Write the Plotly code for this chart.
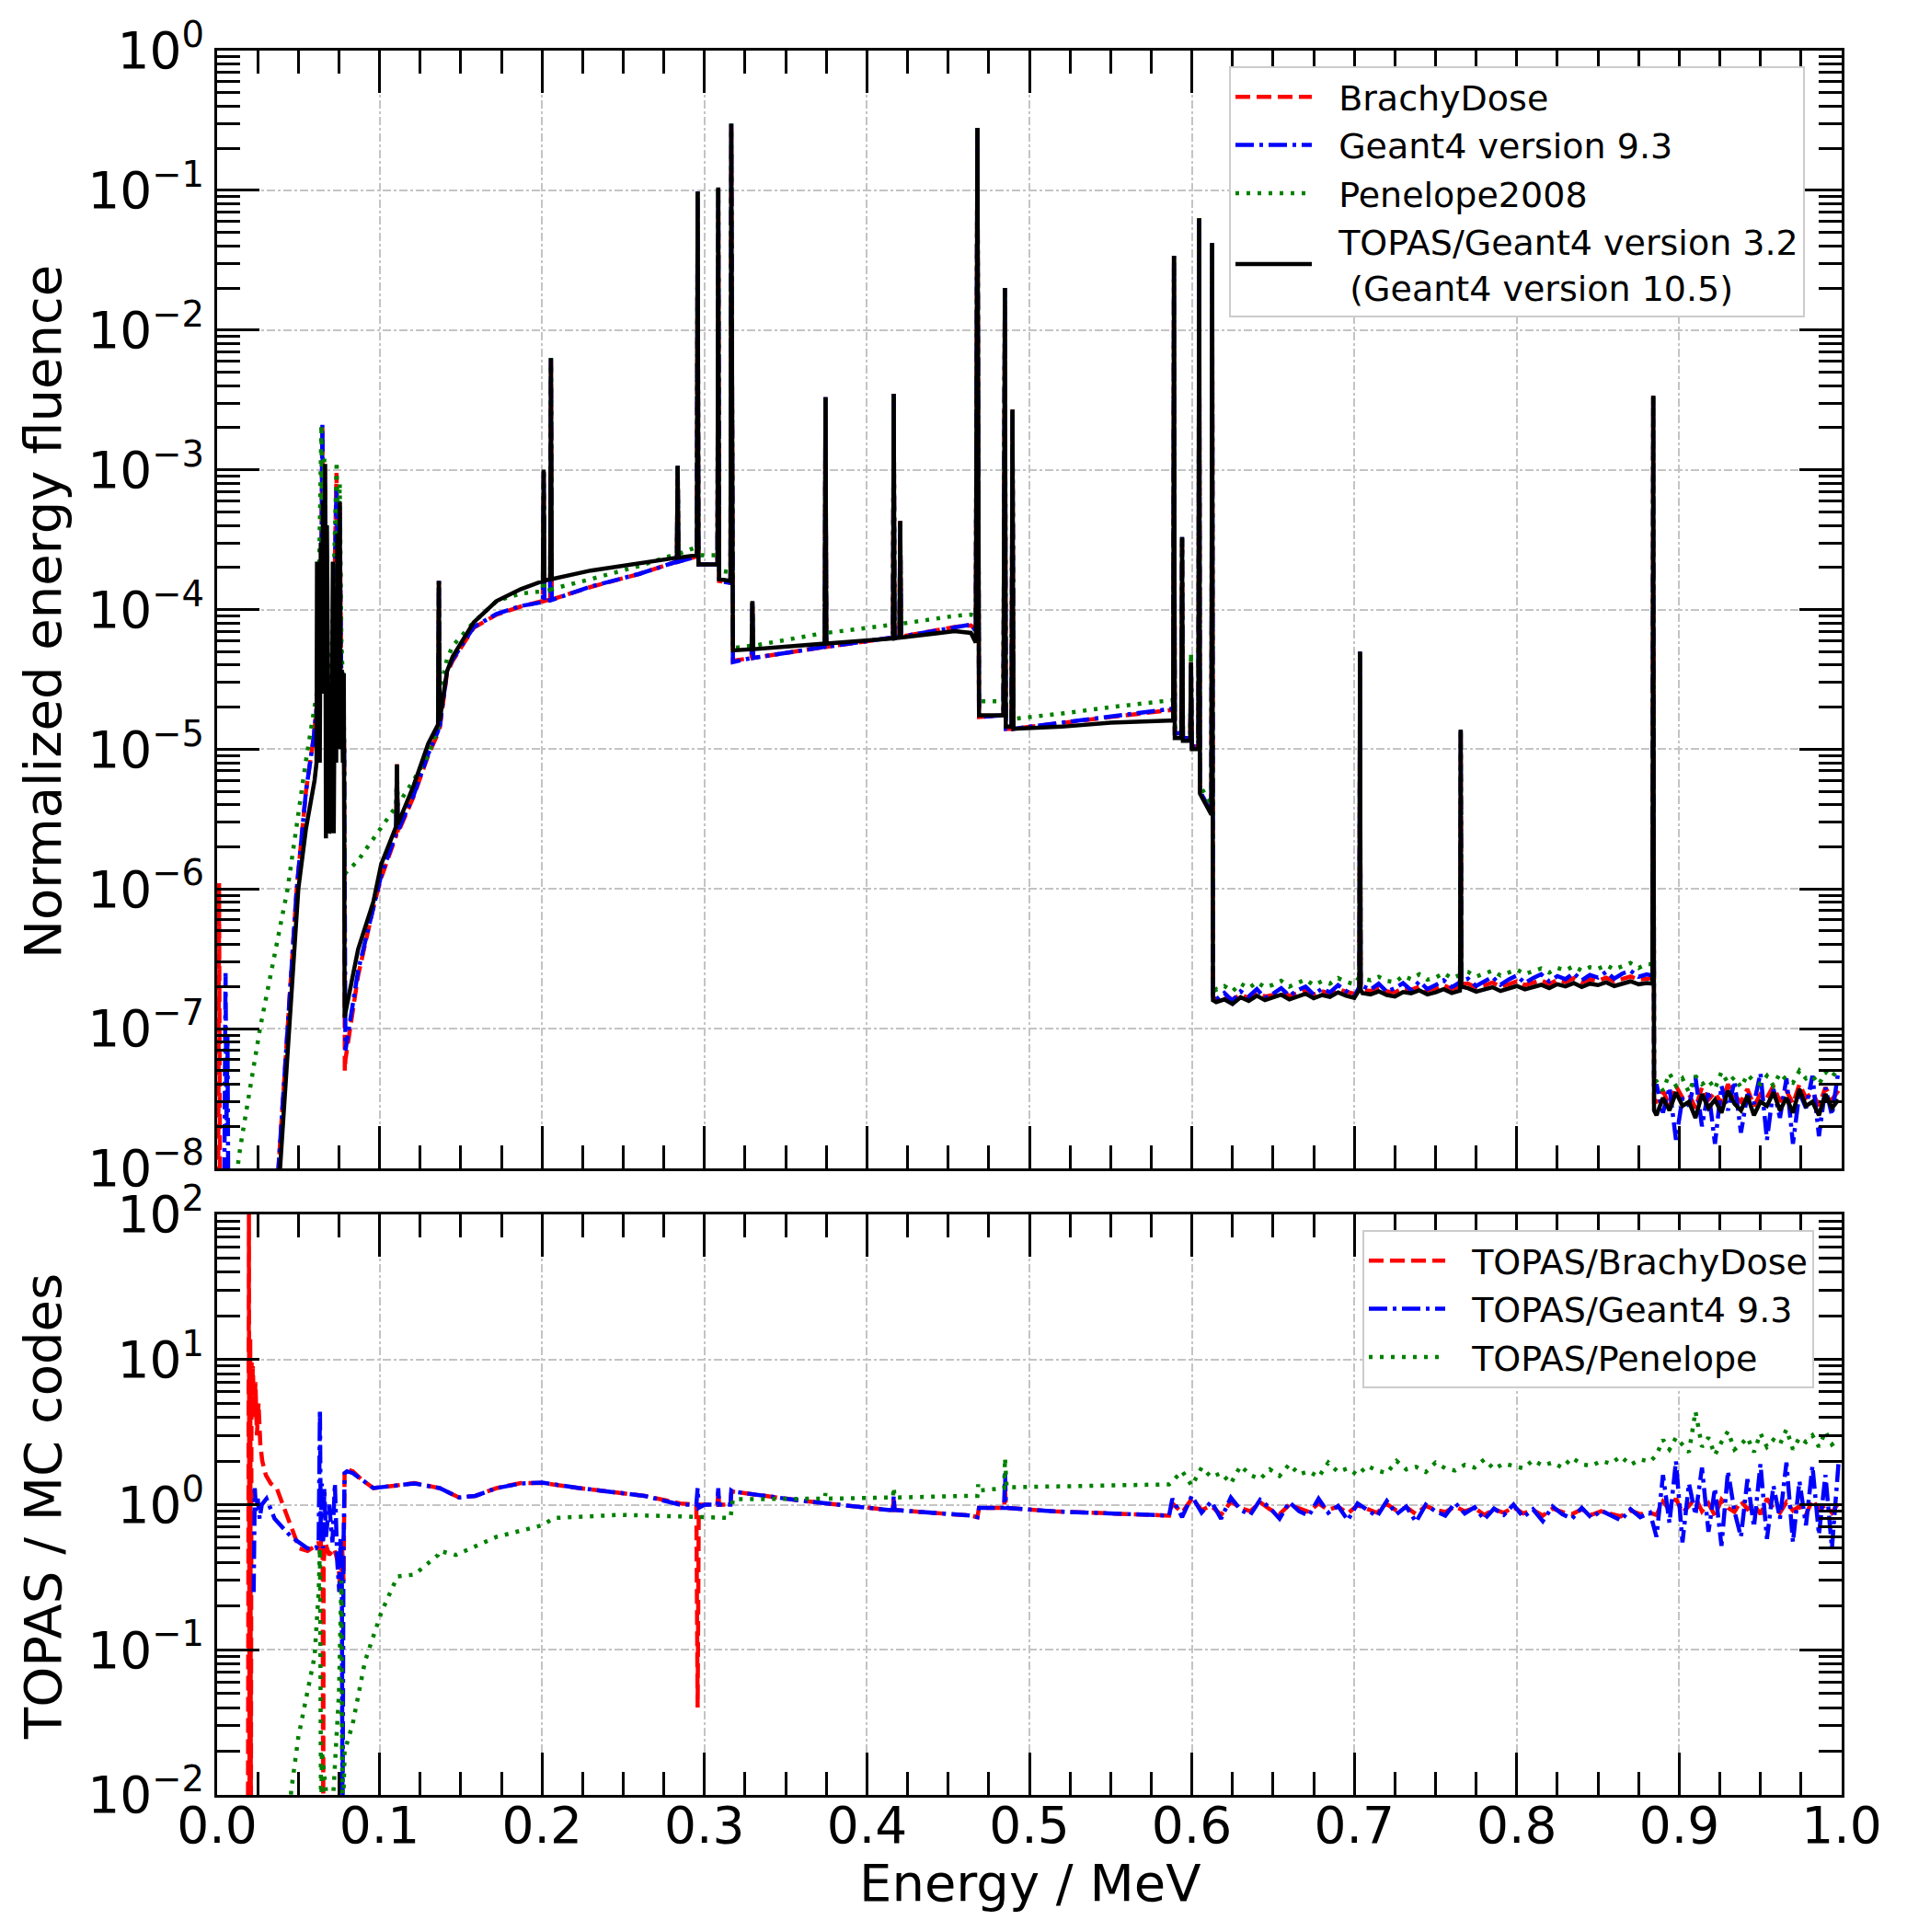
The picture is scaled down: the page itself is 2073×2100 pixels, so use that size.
import plotly.graph_objects as go

# ================= TOP PANEL: normalized energy fluence =================
# shared energy grids (MeV)
E_mid = [0.0790, 0.0868, 0.0962, 0.1010, 0.1102, 0.1107, 0.1112, 0.1210, 0.1300, 0.1360,
         0.1365, 0.1370, 0.1415, 0.1450, 0.1580, 0.1720, 0.1870, 0.2005, 0.2010, 0.2015,
         0.2050, 0.2055, 0.2060, 0.2300, 0.2600, 0.2830, 0.2835, 0.2840, 0.2953, 0.2958,
         0.2963, 0.3080, 0.3085, 0.3090, 0.3160, 0.3165, 0.3175, 0.3290, 0.3295, 0.3300,
         0.3740, 0.3745, 0.3750, 0.4160, 0.4165, 0.4170, 0.4200, 0.4205, 0.4210, 0.4540,
         0.4640, 0.4670, 0.4680, 0.4690, 0.4840, 0.4849, 0.4855, 0.4890, 0.4896, 0.4902,
         0.5200, 0.5500, 0.5860, 0.5885, 0.5890, 0.5895, 0.5935, 0.5940, 0.5945, 0.5990,
         0.5995, 0.6000, 0.6040, 0.6045, 0.6050, 0.6120, 0.6125, 0.6130]
E_n1 = [round(0.615 + 0.005 * i, 3) for i in range(54)]
E_sp = [0.7031, 0.7035, 0.7039, 0.7651, 0.7655, 0.7659]
E_884 = [0.8835, 0.8840, 0.8845]
E_n2 = [round(0.886 + 0.004 * i, 3) for i in range(29)]

# --- TOPAS/Geant4 10.5 (black)
black_low_E = [0.0385, 0.0443, 0.0500, 0.0547, 0.0600, 0.0612, 0.0615, 0.0619, 0.0626, 0.0632,
               0.0638, 0.0645, 0.0652, 0.0658, 0.0665, 0.0670, 0.0676, 0.0690, 0.0705, 0.0712,
               0.0718, 0.0726, 0.0733, 0.0740, 0.0748, 0.0755, 0.0761, 0.0768, 0.0774, 0.0780,
               0.0785]
black_low = [9e-9, 1e-7, 1e-6, 2.7e-6, 6e-6, 8e-6, 2.2e-4, 1.5e-5, 1.0e-4, 8e-6,
             3e-4, 2.5e-5, 6e-4, 3e-5, 1.1e-3, 2.3e-6, 4e-4, 2.5e-6, 2.8e-6, 2.2e-4,
             2.5e-6, 1e-4, 8e-6, 3.5e-4, 1e-5, 5.9e-4, 1.5e-5, 3.7e-5, 8e-6, 3.5e-5,
             1.2e-7]
black_mid = [1.3e-7, 3.7e-7, 8.1e-7, 1.5e-6, 2.8e-6, 7.8e-6, 2.9e-6, 5.5e-6, 1.1e-5, 1.5e-5,
             1.6e-4, 1.6e-5, 3.6e-5, 4.6e-5, 8.1e-5, 1.15e-4, 1.4e-4, 1.6e-4, 1.0e-3, 1.6e-4,
             1.65e-4, 6.3e-3, 1.65e-4, 1.9e-4, 2.15e-4, 2.35e-4, 1.07e-3, 2.35e-4, 2.45e-4, 9.8e-2,
             2.1e-4, 2.1e-4, 1.05e-1, 1.65e-4, 1.6e-4, 3.0e-1, 5.1e-5, 5.2e-5, 1.15e-4, 5.2e-5,
             5.7e-5, 3.3e-3, 5.7e-5, 6.2e-5, 3.5e-3, 6.2e-5, 6.3e-5, 4.3e-4, 6.3e-5, 7.0e-5,
             6.8e-5, 5.8e-5, 2.8e-1, 1.75e-5, 1.75e-5, 2.0e-2, 1.45e-5, 1.45e-5, 2.7e-3, 1.4e-5,
             1.45e-5, 1.55e-5, 1.6e-5, 1.6e-5, 3.4e-2, 1.2e-5, 1.2e-5, 3.3e-4, 1.15e-5, 1.15e-5,
             4.2e-5, 1.0e-5, 1.0e-5, 6.3e-2, 4.8e-6, 3.4e-6, 4.2e-2, 1.6e-7]
black_n1 = [1.55e-7, 1.62e-7, 1.50e-7, 1.68e-7, 1.58e-7, 1.72e-7, 1.60e-7, 1.66e-7, 1.75e-7, 1.62e-7,
            1.70e-7, 1.78e-7, 1.65e-7, 1.74e-7, 1.69e-7, 1.82e-7, 1.72e-7, 1.66e-7, 1.80e-7, 1.76e-7,
            1.85e-7, 1.74e-7, 1.70e-7, 1.83e-7, 1.79e-7, 1.88e-7, 1.76e-7, 1.82e-7, 1.92e-7, 1.80e-7,
            1.87e-7, 1.95e-7, 1.84e-7, 1.90e-7, 1.98e-7, 1.86e-7, 1.93e-7, 2.02e-7, 1.91e-7, 1.97e-7,
            2.06e-7, 1.95e-7, 2.08e-7, 2.01e-7, 2.12e-7, 1.99e-7, 2.10e-7, 2.05e-7, 2.15e-7, 2.02e-7,
            2.11e-7, 2.18e-7, 2.08e-7, 2.12e-7]
black_sp = [1.9e-7, 5.0e-5, 1.9e-7, 2.0e-7, 1.38e-5, 2.0e-7]
black_884 = [2.1e-7, 3.4e-3, 2.6e-8]
black_n2 = [2.4e-8, 3.2e-8, 2.6e-8, 3.5e-8, 2.8e-8, 3.0e-8, 2.3e-8, 3.4e-8, 2.7e-8, 3.1e-8,
            2.5e-8, 3.6e-8, 2.9e-8, 2.6e-8, 3.3e-8, 2.4e-8, 3.0e-8, 2.8e-8, 3.5e-8, 2.6e-8,
            3.2e-8, 2.5e-8, 3.7e-8, 2.8e-8, 3.0e-8, 2.4e-8, 3.4e-8, 2.7e-8, 3.1e-8]

# --- BrachyDose (red)
red_low_E = [0.0005, 0.0012, 0.0020, 0.0375, 0.0434, 0.0490, 0.0547, 0.0594, 0.0613, 0.0630,
             0.0641, 0.0648, 0.0655, 0.0662, 0.0670, 0.0690, 0.0710, 0.0725, 0.0735, 0.0745,
             0.0755, 0.0763, 0.0775, 0.0782, 0.0786]
red_low = [1e-9, 1.1e-6, 1e-9, 9e-9, 1e-7, 1e-6, 5e-6, 1.2e-5, 2e-5, 3e-5,
           1.5e-4, 2.0e-3, 1.5e-4, 1.0e-3, 4e-5, 1.8e-5, 2.5e-5, 1.5e-4, 9.5e-4, 1.2e-4,
           6e-4, 4e-5, 2.5e-5, 1e-5, 5e-8]
red_mid = [6.0e-8, 2.4e-7, 7.4e-7, 1.2e-6, 2.4e-6, 7.8e-6, 2.5e-6, 4.6e-6, 9.1e-6, 1.3e-5,
           1.6e-4, 1.4e-5, 3.5e-5, 4.3e-5, 7.4e-5, 9.2e-5, 1.05e-4, 1.15e-4, 1.0e-3, 1.15e-4,
           1.18e-4, 6.3e-3, 1.18e-4, 1.45e-4, 1.8e-4, 2.2e-4, 1.07e-3, 2.2e-4, 2.4e-4, 9.8e-2,
           2.1e-4, 2.1e-4, 1.05e-1, 1.6e-4, 1.55e-4, 3.0e-1, 4.3e-5, 4.5e-5, 1.15e-4, 4.5e-5,
           5.4e-5, 3.3e-3, 5.4e-5, 6.3e-5, 3.5e-3, 6.3e-5, 6.4e-5, 4.3e-4, 6.4e-5, 7.5e-5,
           7.7e-5, 7.2e-5, 2.8e-1, 1.7e-5, 1.75e-5, 2.0e-2, 1.4e-5, 1.4e-5, 2.7e-3, 1.4e-5,
           1.55e-5, 1.7e-5, 1.9e-5, 1.9e-5, 3.4e-2, 1.3e-5, 1.3e-5, 3.3e-4, 1.2e-5, 1.2e-5,
           4.2e-5, 1.05e-5, 1.05e-5, 6.3e-2, 5.0e-6, 3.5e-6, 4.2e-2, 1.7e-7]
red_n1 = [1.60e-7, 1.70e-7, 1.62e-7, 1.75e-7, 1.66e-7, 1.80e-7, 1.70e-7, 1.74e-7, 1.84e-7, 1.72e-7,
          1.80e-7, 1.88e-7, 1.76e-7, 1.85e-7, 1.79e-7, 1.92e-7, 1.84e-7, 1.78e-7, 1.90e-7, 1.86e-7,
          1.96e-7, 1.85e-7, 1.82e-7, 1.95e-7, 1.90e-7, 2.00e-7, 1.88e-7, 1.94e-7, 2.05e-7, 1.92e-7,
          2.00e-7, 2.10e-7, 1.98e-7, 2.04e-7, 2.14e-7, 2.00e-7, 2.08e-7, 2.18e-7, 2.05e-7, 2.12e-7,
          2.22e-7, 2.08e-7, 2.24e-7, 2.16e-7, 2.30e-7, 2.14e-7, 2.26e-7, 2.20e-7, 2.32e-7, 2.18e-7,
          2.28e-7, 2.36e-7, 2.25e-7, 2.30e-7]
red_sp = [2.0e-7, 5.0e-5, 2.0e-7, 2.1e-7, 1.38e-5, 2.1e-7]
red_884 = [2.3e-7, 3.4e-3, 3.0e-8]
red_n2 = [3.0e-8, 3.6e-8, 2.8e-8, 3.9e-8, 3.2e-8, 3.4e-8, 2.7e-8, 3.8e-8, 3.1e-8, 3.5e-8,
          2.9e-8, 4.0e-8, 3.3e-8, 3.0e-8, 3.7e-8, 2.8e-8, 3.4e-8, 3.2e-8, 3.9e-8, 3.0e-8,
          3.6e-8, 2.9e-8, 4.0e-8, 3.2e-8, 3.5e-8, 2.8e-8, 3.8e-8, 3.1e-8, 3.6e-8]

# --- Geant4 9.3 (blue)
blue_low_E = [0.0040, 0.0052, 0.0058, 0.0064, 0.0072, 0.0375, 0.0434, 0.0490, 0.0547, 0.0594,
              0.0613, 0.0630, 0.0641, 0.0648, 0.0655, 0.0662, 0.0670, 0.0690, 0.0710, 0.0725,
              0.0735, 0.0745, 0.0755, 0.0763, 0.0775, 0.0782, 0.0786]
blue_low = [1e-9, 2.5e-7, 2e-8, 9e-8, 1e-9, 9e-9, 1e-7, 1e-6, 5e-6, 1.2e-5,
            2e-5, 3e-5, 1.5e-4, 2.1e-3, 1.5e-4, 9e-4, 4e-5, 1.8e-5, 2.5e-5, 1.5e-4,
            7.5e-4, 1.2e-4, 5e-4, 4e-5, 2.5e-5, 1e-5, 7e-8]
blue_mid = [7.0e-8, 2.6e-7, 7.6e-7, 1.25e-6, 2.5e-6, 7.8e-6, 2.6e-6, 4.7e-6, 9.3e-6, 1.35e-5,
            1.6e-4, 1.45e-5, 3.6e-5, 4.4e-5, 7.5e-5, 9.3e-5, 1.06e-4, 1.13e-4, 1.0e-3, 1.13e-4,
            1.17e-4, 6.3e-3, 1.17e-4, 1.46e-4, 1.8e-4, 2.2e-4, 1.07e-3, 2.2e-4, 2.4e-4, 9.8e-2,
            2.1e-4, 2.1e-4, 1.05e-1, 1.6e-4, 1.55e-4, 3.0e-1, 4.2e-5, 4.5e-5, 1.15e-4, 4.5e-5,
            5.4e-5, 3.3e-3, 5.4e-5, 6.3e-5, 3.5e-3, 6.3e-5, 6.4e-5, 4.3e-4, 6.4e-5, 7.4e-5,
            7.8e-5, 7.0e-5, 2.8e-1, 1.7e-5, 1.75e-5, 2.0e-2, 1.4e-5, 1.4e-5, 2.7e-3, 1.4e-5,
            1.55e-5, 1.7e-5, 1.95e-5, 1.95e-5, 3.4e-2, 1.3e-5, 1.3e-5, 3.3e-4, 1.2e-5, 1.2e-5,
            4.2e-5, 1.05e-5, 1.05e-5, 6.3e-2, 5.0e-6, 3.5e-6, 4.2e-2, 1.7e-7]
blue_n1 = [1.62e-7, 1.80e-7, 1.58e-7, 1.85e-7, 1.70e-7, 1.92e-7, 1.66e-7, 1.78e-7, 1.95e-7, 1.72e-7,
           1.88e-7, 2.00e-7, 1.75e-7, 1.93e-7, 1.82e-7, 2.05e-7, 1.86e-7, 1.70e-7, 2.02e-7, 1.90e-7,
           2.10e-7, 1.84e-7, 1.95e-7, 2.12e-7, 1.88e-7, 2.18e-7, 1.92e-7, 2.05e-7, 2.22e-7, 1.98e-7,
           2.15e-7, 2.28e-7, 2.02e-7, 2.20e-7, 2.35e-7, 2.06e-7, 2.25e-7, 2.40e-7, 2.12e-7, 2.30e-7,
           2.45e-7, 2.18e-7, 2.38e-7, 2.26e-7, 2.50e-7, 2.22e-7, 2.42e-7, 2.32e-7, 2.55e-7, 2.28e-7,
           2.48e-7, 2.60e-7, 2.35e-7, 2.45e-7]
blue_sp = [2.0e-7, 5.0e-5, 2.0e-7, 2.2e-7, 1.38e-5, 2.2e-7]
blue_884 = [2.4e-7, 3.4e-3, 3.5e-8]
blue_n2 = [4.0e-8, 2.5e-8, 3.8e-8, 1.6e-8, 3.2e-8, 2.8e-8, 4.5e-8, 2.0e-8, 3.6e-8, 1.5e-8,
           3.9e-8, 2.6e-8, 4.2e-8, 1.8e-8, 3.4e-8, 2.9e-8, 4.8e-8, 1.6e-8, 3.7e-8, 2.3e-8,
           4.4e-8, 1.5e-8, 3.5e-8, 2.7e-8, 4.6e-8, 1.7e-8, 3.8e-8, 2.4e-8, 5.0e-8]

# --- Penelope2008 (green)
green_low_E = [0.0120, 0.0142, 0.0264, 0.0434, 0.0547, 0.0594, 0.0613, 0.0625, 0.0642, 0.0650,
               0.0660, 0.0672, 0.0700, 0.0720, 0.0736, 0.0745, 0.0755, 0.0765, 0.0780, 0.0786]
green_low = [9e-9, 1.4e-8, 1e-7, 1e-6, 8.3e-6, 1.8e-5, 2.5e-5, 1.2e-4, 2.1e-3, 2e-4,
             1.2e-3, 6e-5, 3e-5, 2e-4, 1.15e-3, 2e-4, 8e-4, 6e-5, 2e-5, 1.2e-6]
green_mid = [1.3e-6, 1.6e-6, 2.3e-6, 2.7e-6, 3.9e-6, 7.8e-6, 4.0e-6, 6.0e-6, 9.1e-6, 1.4e-5,
             1.6e-4, 2.6e-5, 4.4e-5, 5.5e-5, 8.1e-5, 1.15e-4, 1.3e-4, 1.35e-4, 1.0e-3, 1.35e-4,
             1.38e-4, 6.3e-3, 1.4e-4, 1.65e-4, 2.05e-4, 2.5e-4, 1.07e-3, 2.5e-4, 2.8e-4, 9.8e-2,
             2.45e-4, 2.45e-4, 1.05e-1, 1.9e-4, 1.85e-4, 3.0e-1, 5.3e-5, 5.5e-5, 1.15e-4, 5.5e-5,
             6.8e-5, 3.3e-3, 6.8e-5, 7.8e-5, 3.5e-3, 7.8e-5, 7.9e-5, 4.3e-4, 7.9e-5, 9.0e-5,
             9.2e-5, 9.0e-5, 2.8e-1, 2.2e-5, 2.2e-5, 2.0e-2, 1.7e-5, 1.7e-5, 2.7e-3, 1.65e-5,
             1.8e-5, 2.0e-5, 2.25e-5, 2.25e-5, 3.4e-2, 1.45e-5, 1.45e-5, 3.3e-4, 1.4e-5, 1.4e-5,
             4.9e-5, 1.2e-5, 1.2e-5, 6.3e-2, 5.5e-6, 4.0e-6, 4.2e-2, 2.1e-7]
green_n1 = [1.90e-7, 2.02e-7, 1.85e-7, 2.10e-7, 1.95e-7, 2.15e-7, 1.98e-7, 2.06e-7, 2.20e-7, 2.00e-7,
            2.12e-7, 2.25e-7, 2.05e-7, 2.18e-7, 2.10e-7, 2.30e-7, 2.16e-7, 2.08e-7, 2.28e-7, 2.22e-7,
            2.35e-7, 2.20e-7, 2.15e-7, 2.38e-7, 2.26e-7, 2.45e-7, 2.24e-7, 2.32e-7, 2.50e-7, 2.30e-7,
            2.42e-7, 2.55e-7, 2.36e-7, 2.48e-7, 2.60e-7, 2.40e-7, 2.52e-7, 2.65e-7, 2.46e-7, 2.58e-7,
            2.70e-7, 2.52e-7, 2.72e-7, 2.62e-7, 2.80e-7, 2.60e-7, 2.75e-7, 2.68e-7, 2.85e-7, 2.66e-7,
            2.78e-7, 2.95e-7, 2.72e-7, 2.90e-7]
green_sp = [2.35e-7, 5.0e-5, 2.35e-7, 2.6e-7, 1.38e-5, 2.6e-7]
green_884 = [2.9e-7, 3.4e-3, 4.2e-8]
green_n2 = [4.2e-8, 3.6e-8, 4.8e-8, 3.9e-8, 4.4e-8, 3.5e-8, 4.6e-8, 4.0e-8, 4.3e-8, 3.7e-8,
            4.9e-8, 4.1e-8, 4.5e-8, 3.8e-8, 4.7e-8, 4.2e-8, 4.0e-8, 4.6e-8, 3.9e-8, 4.8e-8,
            4.3e-8, 4.1e-8, 5.0e-8, 4.4e-8, 4.6e-8, 4.0e-8, 4.9e-8, 4.5e-8, 5.2e-8]

# ================= BOTTOM PANEL: TOPAS / MC code ratios =================
E_rmid = [0.0800, 0.0835, 0.0886, 0.0962, 0.1090, 0.1215, 0.1370, 0.1490, 0.1590, 0.1720,
          0.1870, 0.2000, 0.2230, 0.2480, 0.2630, 0.2850, 0.2950, 0.2958, 0.2965, 0.3000,
          0.3080, 0.3085, 0.3090, 0.3160, 0.3165, 0.3175, 0.3610, 0.4130, 0.4160, 0.4165,
          0.4170, 0.4640, 0.4680, 0.4690, 0.4845, 0.4850, 0.4855, 0.5150, 0.5660, 0.5860]
E_gmid = [0.2850, 0.3050, 0.3160, 0.3175, 0.3740, 0.3745, 0.3750, 0.4130, 0.4160, 0.4165,
          0.4170, 0.4640, 0.4680, 0.4685, 0.4690, 0.4845, 0.4850, 0.4860, 0.4900, 0.5400,
          0.5860]
E_rn1 = [round(0.588 + 0.006 * i, 3) for i in range(50)]

# TOPAS/BrachyDose (red)
rr_low_E = [0.0190, 0.0196, 0.0200, 0.0204, 0.0208, 0.0212, 0.0216, 0.0220, 0.0228, 0.0236,
            0.0245, 0.0255, 0.0266, 0.0278, 0.0300, 0.0330, 0.0367, 0.0420, 0.0456, 0.0506,
            0.0557, 0.0608, 0.0625, 0.0635, 0.0645, 0.0650, 0.0653, 0.0656, 0.0665, 0.0690,
            0.0720, 0.0745, 0.0760, 0.0770, 0.0778, 0.0785]
rr_low = [5e-3, 100, 5e-3, 13.8, 5e-3, 10, 6, 9, 4, 7,
          3, 5, 2.6, 2.0, 1.6, 1.4, 1.3, 0.9, 0.71, 0.5,
          0.48, 0.52, 0.55, 0.45, 0.72, 0.4, 5e-3, 0.4, 0.55, 0.45,
          0.5, 0.4, 0.25, 0.5, 0.3, 1.7]
rr_mid = [1.75, 1.7, 1.5, 1.3, 1.35, 1.41, 1.3, 1.12, 1.15, 1.3,
          1.41, 1.41, 1.3, 1.2, 1.15, 1.02, 1.0, 0.04, 1.0, 1.0,
          1.0, 1.25, 1.0, 1.0, 1.2, 1.23, 1.06, 0.92, 0.92, 1.1,
          0.92, 0.84, 0.82, 0.95, 0.95, 1.35, 0.95, 0.9, 0.86, 0.84]
rr_n1 = [1.02, 0.88, 1.10, 0.92, 0.98, 0.85, 1.05, 0.95, 0.90, 1.04,
         0.93, 0.86, 1.00, 0.95, 0.89, 1.02, 0.92, 0.97, 0.87, 0.99,
         0.94, 0.88, 1.01, 0.91, 0.96, 0.86, 0.98, 0.92, 0.89, 0.97,
         0.90, 0.95, 0.85, 0.93, 0.88, 0.96, 0.87, 0.92, 0.84, 0.94,
         0.89, 0.86, 0.93, 0.85, 0.90, 0.87, 0.83, 0.91, 0.86, 0.88]
rr_n2 = [0.85, 1.05, 0.92, 1.10, 0.88, 0.98, 1.12, 0.90, 1.02, 0.84,
         1.08, 0.95, 0.89, 1.06, 0.93, 1.00, 0.86, 1.10, 0.94, 0.88,
         1.04, 0.91, 0.97, 0.85, 1.08, 0.93, 0.99, 0.88, 1.02]

# TOPAS/Geant4 9.3 (blue)
br_low_E = [0.0225, 0.0232, 0.0240, 0.0250, 0.0262, 0.0275, 0.0304, 0.0354, 0.0456, 0.0557,
            0.0608, 0.0625, 0.0633, 0.0638, 0.0645, 0.0652, 0.0660, 0.0670, 0.0690, 0.0710,
            0.0725, 0.0740, 0.0752, 0.0760, 0.0768, 0.0772, 0.0778, 0.0785]
br_low = [0.25, 1.3, 0.9, 1.1, 0.8, 1.0, 1.1, 0.8, 0.6, 0.5,
          0.5, 0.55, 4.5, 0.7, 1.4, 0.5, 1.3, 0.6, 1.0, 0.55,
          1.4, 0.4, 0.25, 0.6, 0.3, 5e-3, 0.5, 1.65]
br_mid = [1.7, 1.65, 1.5, 1.3, 1.35, 1.4, 1.3, 1.12, 1.15, 1.3,
          1.4, 1.42, 1.3, 1.2, 1.15, 1.0, 1.0, 1.3, 0.95, 1.0,
          1.0, 1.3, 1.0, 1.0, 1.25, 1.23, 1.06, 0.92, 0.92, 1.15,
          0.92, 0.84, 0.82, 0.95, 0.95, 1.7, 0.95, 0.9, 0.86, 0.84]
br_n1 = [1.10, 0.82, 1.15, 0.88, 1.05, 0.80, 1.12, 0.92, 0.85, 1.08,
         0.95, 0.80, 1.04, 0.90, 0.84, 1.10, 0.88, 0.98, 0.78, 1.02,
         0.92, 0.83, 1.06, 0.86, 0.97, 0.76, 1.00, 0.90, 0.84, 1.03,
         0.87, 0.96, 0.79, 0.94, 0.85, 1.00, 0.82, 0.93, 0.77, 0.97,
         0.86, 0.80, 0.95, 0.81, 0.91, 0.84, 0.78, 0.93, 0.82, 0.88]
br_n2 = [0.60, 1.60, 0.75, 2.00, 0.55, 1.40, 0.85, 1.80, 0.65, 1.30,
         0.52, 1.70, 0.90, 0.60, 1.50, 0.70, 1.90, 0.58, 1.35, 0.80,
         1.95, 0.55, 1.45, 0.72, 1.85, 0.62, 1.60, 0.50, 1.90]

# TOPAS/Penelope (green)
gr_low_E = [0.0440, 0.0456, 0.0500, 0.0557, 0.0600, 0.0625, 0.0633, 0.0637, 0.0640, 0.0645,
            0.0700, 0.0750, 0.0765, 0.0772, 0.0778, 0.0785, 0.0835, 0.0910, 0.1010, 0.1100,
            0.1110, 0.1215, 0.1360, 0.1370, 0.1470, 0.1720, 0.2000, 0.2076, 0.2480]
gr_low = [5e-3, 0.0107, 0.025, 0.052, 0.09, 0.25, 0.5, 0.05, 5e-3, 0.02,
          5e-3, 0.05, 0.3, 5e-3, 0.012, 0.02, 0.031, 0.083, 0.18, 0.3,
          0.32, 0.33, 0.45, 0.48, 0.45, 0.6, 0.72, 0.81, 0.85]
gr_mid = [0.83, 0.81, 0.81, 1.09, 1.1, 1.2, 1.1, 1.12, 1.12, 1.32,
          1.12, 1.15, 1.15, 1.38, 1.25, 1.3, 2.1, 1.32, 1.32, 1.35,
          1.38]
gr_n1 = [1.45, 1.70, 1.35, 1.80, 1.55, 1.65, 1.40, 1.85, 1.60, 1.50,
         1.75, 1.58, 1.90, 1.62, 1.70, 1.55, 1.95, 1.68, 1.78, 1.60,
         1.85, 1.72, 1.65, 2.00, 1.75, 1.82, 1.68, 1.95, 1.78, 1.72,
         1.88, 1.80, 2.05, 1.76, 1.92, 1.84, 1.78, 2.02, 1.86, 1.95,
         1.80, 2.10, 1.90, 1.85, 2.00, 1.92, 2.15, 1.88, 2.05, 1.98]
gr_n2 = [2.2, 2.8, 2.4, 2.9, 2.6, 2.3, 4.4, 2.5, 2.9, 2.2,
         2.7, 3.2, 2.4, 2.6, 2.9, 2.3, 3.1, 2.5, 2.8, 2.6,
         3.3, 2.4, 2.9, 2.7, 3.0, 2.5, 3.2, 2.6, 2.8]

y_top_ticks = [1e-8, 1e-7, 1e-6, 1e-5, 1e-4, 1e-3, 1e-2, 1e-1, 1e0]
y_top_text = ["10<sup>−8</sup>", "10<sup>−7</sup>", "10<sup>−6</sup>", "10<sup>−5</sup>",
              "10<sup>−4</sup>", "10<sup>−3</sup>", "10<sup>−2</sup>", "10<sup>−1</sup>",
              "10<sup>0</sup>"]
y_bot_ticks = [1e-2, 1e-1, 1e0, 1e1, 1e2]
y_bot_text = ["10<sup>−2</sup>", "10<sup>−1</sup>", "10<sup>0</sup>", "10<sup>1</sup>",
              "10<sup>2</sup>"]
x_ticks = [0.0, 0.1, 0.2, 0.3, 0.4, 0.5, 0.6, 0.7, 0.8, 0.9, 1.0]
x_text = ["0.0", "0.1", "0.2", "0.3", "0.4", "0.5", "0.6", "0.7", "0.8", "0.9", "1.0"]


def build(parts):
    xs, ys = [], []
    for ex, vy in parts:
        assert len(ex) == len(vy), (len(ex), len(vy))
        xs += list(ex)
        ys += list(vy)
    pairs = sorted(zip(xs, ys), key=lambda p: p[0])
    return [p[0] for p in pairs], [p[1] for p in pairs]


def top_series(low_E, low, mid, n1, sp, t884, n2):
    return build([(low_E, low), (E_mid, mid), (E_n1, n1), (E_sp, sp), (E_884, t884), (E_n2, n2)])


RED, BLUE, GREEN, BLACK = "#ff0000", "#0000ff", "#008000", "#000000"
LW = 4.5
DASH_RED = "16px,7px"
DASH_BLUE = "20px,6px,4px,6px"
DASH_GREEN = "4px,8px"
FONT = "DejaVu Sans"
SP = "\u00a0\u00a0"  # gap between legend line sample and label

fig = go.Figure()

top = [
    ("BrachyDose", top_series(red_low_E, red_low, red_mid, red_n1, red_sp, red_884, red_n2), RED, DASH_RED),
    ("Geant4 version 9.3", top_series(blue_low_E, blue_low, blue_mid, blue_n1, blue_sp, blue_884, blue_n2), BLUE, DASH_BLUE),
    ("Penelope2008", top_series(green_low_E, green_low, green_mid, green_n1, green_sp, green_884, green_n2), GREEN, DASH_GREEN),
    ("TOPAS/Geant4 version 3.2<br>" + SP + " (Geant4 version 10.5)",
     top_series(black_low_E, black_low, black_mid, black_n1, black_sp, black_884, black_n2), BLACK, "solid"),
]
for name, (xs, ys), col, dash in top:
    fig.add_trace(go.Scatter(x=xs, y=ys, mode="lines", name=SP + name, xaxis="x", yaxis="y",
                             line=dict(color=col, width=LW, dash=dash), legend="legend"))

bot = [
    ("TOPAS/BrachyDose", build([(rr_low_E, rr_low), (E_rmid, rr_mid), (E_rn1, rr_n1), (E_n2, rr_n2)]), RED, DASH_RED),
    ("TOPAS/Geant4 9.3", build([(br_low_E, br_low), (E_rmid, br_mid), (E_rn1, br_n1), (E_n2, br_n2)]), BLUE, DASH_BLUE),
    ("TOPAS/Penelope", build([(gr_low_E, gr_low), (E_gmid, gr_mid), (E_rn1, gr_n1), (E_n2, gr_n2)]), GREEN, DASH_GREEN),
]
for name, (xs, ys), col, dash in bot:
    fig.add_trace(go.Scatter(x=xs, y=ys, mode="lines", name=SP + name, xaxis="x2", yaxis="y2",
                             line=dict(color=col, width=LW, dash=dash), legend="legend2"))

W, H = 2073, 2100
XD = [228 / W, 1994 / W]
YD_TOP = [1 - 1262 / H, 1 - 47 / H]
YD_BOT = [1 - 1943 / H, 1 - 1312 / H]

TICKFONT = dict(family=FONT, size=55, color="black")
GRID = dict(showgrid=True, gridcolor="#c4c4c4", griddash="dashdot", gridwidth=1.5)
AX = dict(showline=True, linecolor="black", linewidth=3, mirror="allticks",
          ticks="inside", ticklen=46, tickwidth=2.5, tickcolor="black", automargin=False,
          zeroline=False, tickfont=TICKFONT, **GRID)

minor_top = [k * 10.0 ** d for d in range(-8, 0) for k in range(2, 10)]
minor_bot = [k * 10.0 ** d for d in range(-2, 2) for k in range(2, 10)]
MINOR = dict(ticks="inside", ticklen=25, tickwidth=2.5, tickcolor="black", showgrid=False)

LEG = dict(xanchor="right", yanchor="top", bgcolor="white", bordercolor="#cccccc", borderwidth=2,
           font=dict(family=FONT, size=38, color="black"), tracegroupgap=0, itemwidth=83)

fig.update_layout(
    width=W, height=H,
    margin=dict(l=0, r=0, t=0, b=0, autoexpand=False),
    paper_bgcolor="white", plot_bgcolor="white",
    font=dict(family=FONT, color="black"),
    xaxis=dict(domain=XD, anchor="y", range=[0, 1], tickvals=x_ticks, showticklabels=False,
               minor=dict(dtick=0.025, **MINOR), **AX),
    yaxis=dict(domain=YD_TOP, anchor="x", type="log", range=[-8, 0],
               tickvals=y_top_ticks, ticktext=y_top_text,
               minor=dict(tickvals=minor_top, **MINOR), **AX),
    xaxis2=dict(domain=XD, anchor="y2", range=[0, 1], tickvals=x_ticks, ticktext=x_text,
                ticklabelstandoff=-17,
                minor=dict(dtick=0.025, **MINOR), **AX),
    yaxis2=dict(domain=YD_BOT, anchor="x2", type="log", range=[-2, 2],
                tickvals=y_bot_ticks, ticktext=y_bot_text,
                minor=dict(tickvals=minor_bot, **MINOR), **AX),
    legend=dict(x=1954 / W, y=1 - 64 / H, **LEG),
    legend2=dict(x=1964 / W, y=1 - 1329 / H, **LEG),
    showlegend=True,
    annotations=[
        dict(text="Normalized energy fluence", x=38 / W, y=1 - 657 / H, xref="paper", yref="paper",
             textangle=-90, showarrow=False, font=dict(family=FONT, size=56, color="black"),
             xanchor="center", yanchor="middle"),
        dict(text="TOPAS / MC codes", x=38 / W, y=1 - 1630 / H, xref="paper", yref="paper",
             textangle=-90, showarrow=False, font=dict(family=FONT, size=56, color="black"),
             xanchor="center", yanchor="middle"),
        dict(text="Energy / MeV", x=1112 / W, y=1 - 2038 / H, xref="paper", yref="paper",
             showarrow=False, font=dict(family=FONT, size=56, color="black"),
             xanchor="center", yanchor="middle"),
    ],
)

fig.write_html("out.html")
